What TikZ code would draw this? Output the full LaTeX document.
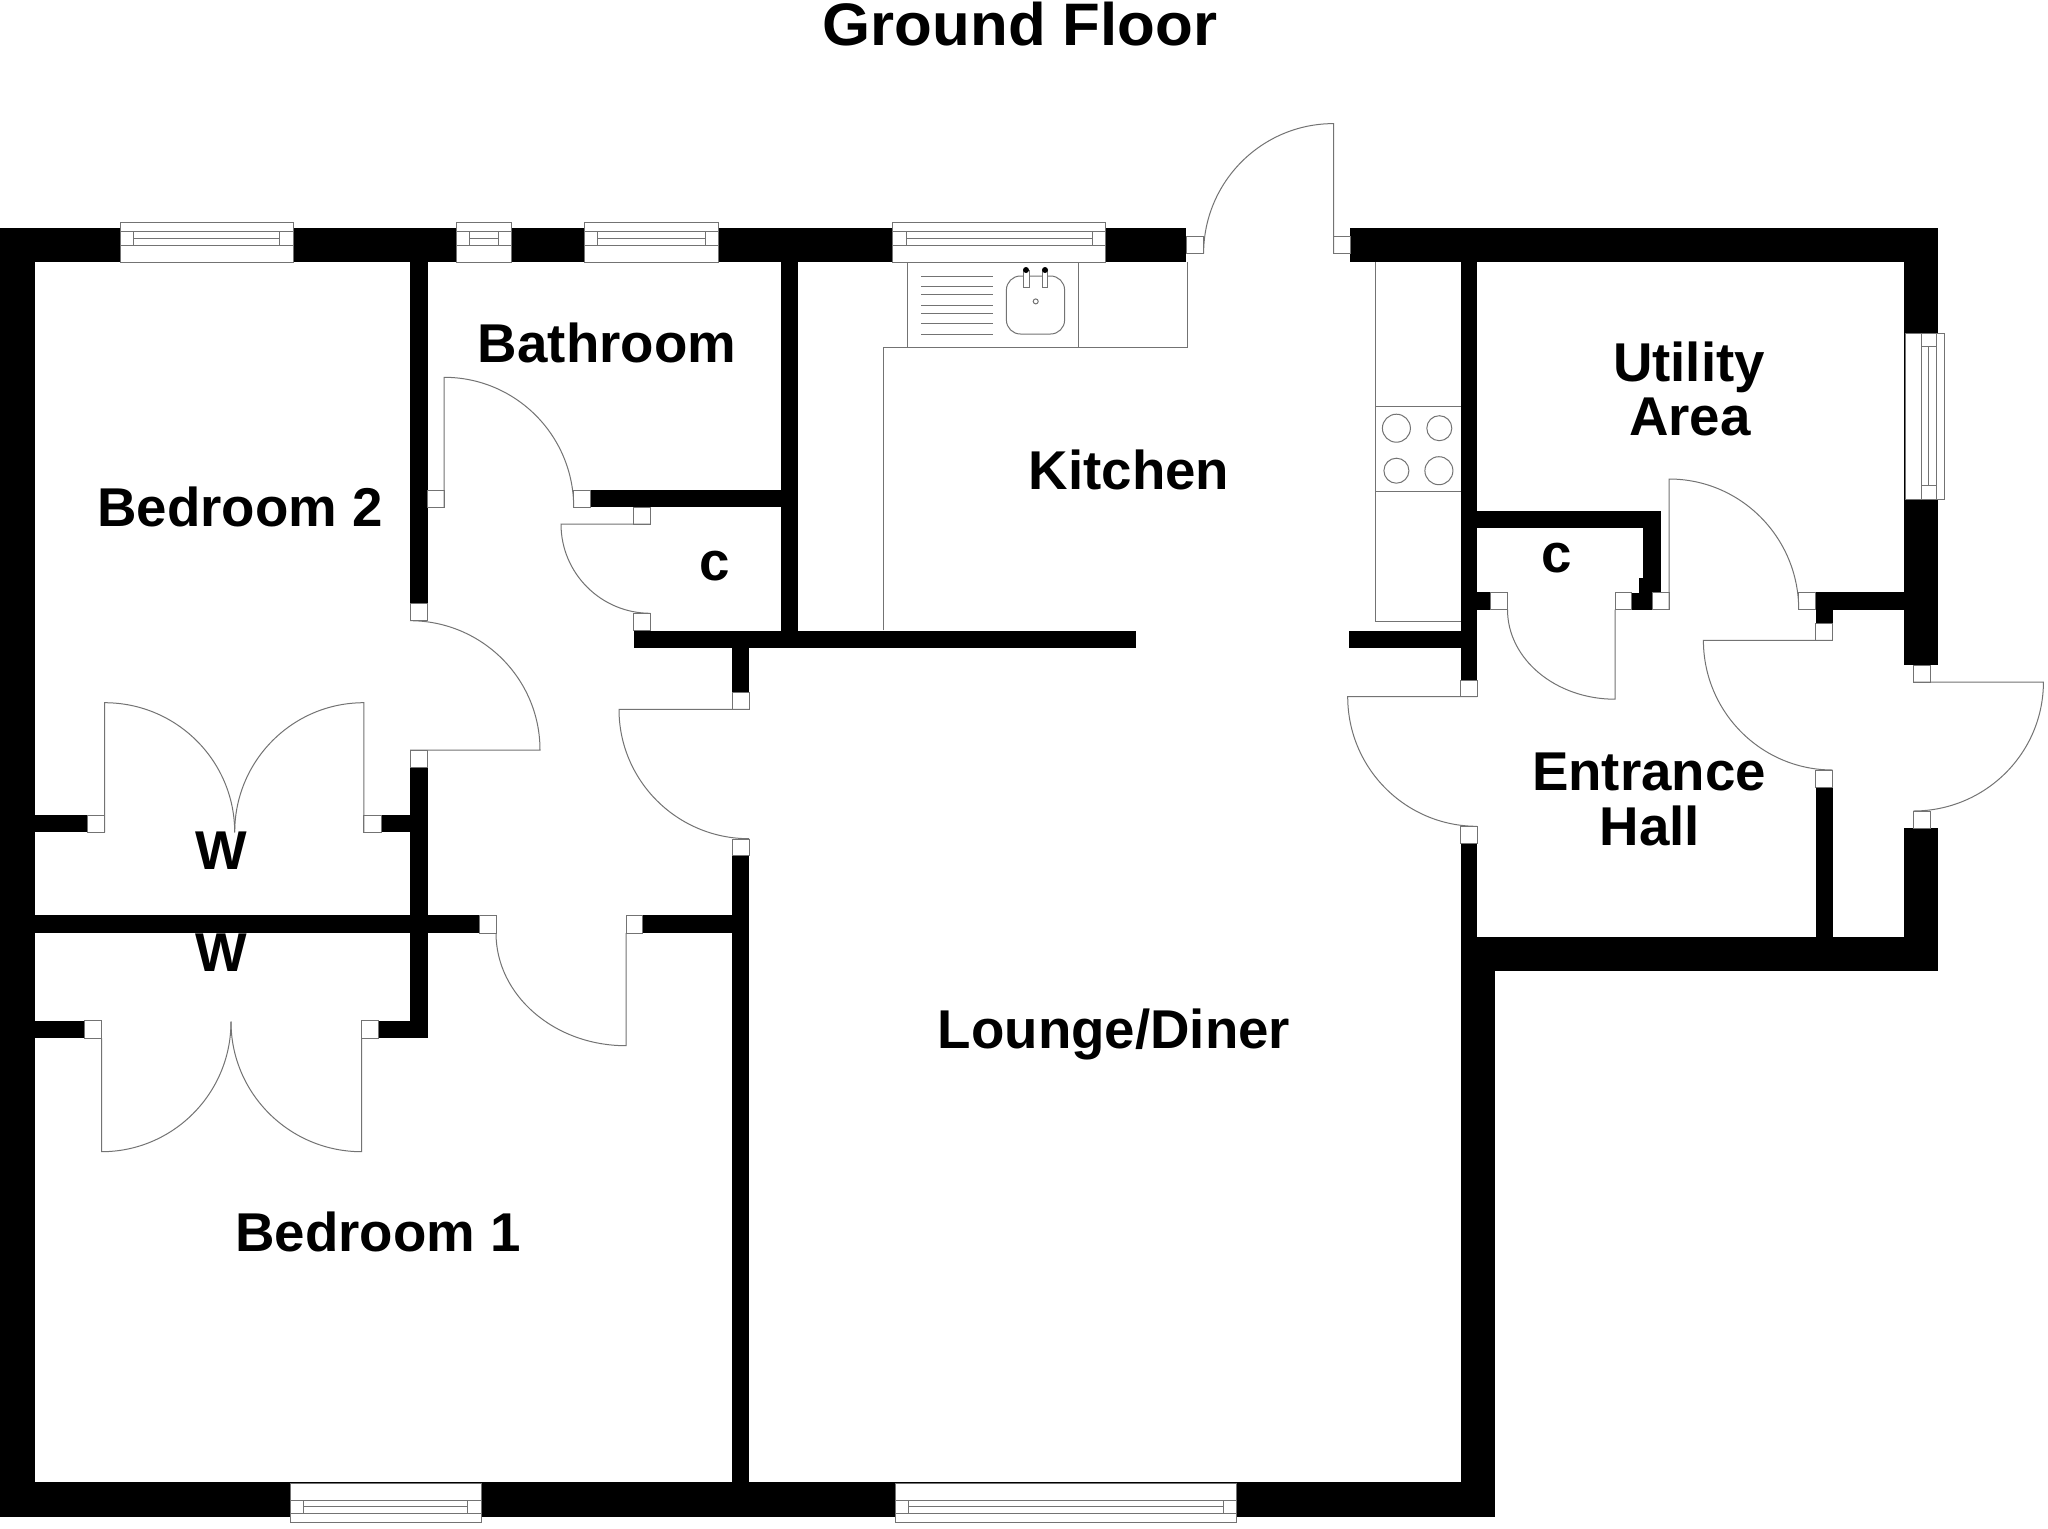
\documentclass[tikz,border=0pt]{standalone}
\usepackage{fontspec}
\setmainfont{Liberation Sans}
\newfontfamily\titlefont{Liberation Sans Bold}[FakeStretch=1.03]
\usetikzlibrary{calc}
\definecolor{linegray}{gray}{0.45}
\tikzset{
  x=0.75pt,y=-0.75pt,
  wall/.style={fill=black,draw=none},
  fine/.style={draw=linegray,line width=0.75pt},
  jamb/.style={draw=linegray,fill=white,line width=0.75pt},
  label/.style={inner sep=0pt,anchor=base,font=\fontsize{41}{41}\selectfont\bfseries,text=black},
  titlelabel/.style={inner sep=0pt,anchor=base,font=\fontsize{45}{45}\selectfont\titlefont,text=black},
}
\newcommand\wl[2]{\fill[wall] (#1) rectangle (#2);}
\newcommand\jb[2]{\draw[jamb] (#1) rectangle (#2);}
% hinge, leaf tip, corner of the quadrant, end of swing
\newcommand\door[4]{%
  \coordinate (T) at (#2); \coordinate (C) at (#3); \coordinate (E) at (#4);
  \draw[fine] (#1) -- (T) .. controls ($(T)!0.5523!(C)$) and ($(E)!0.5523!(C)$) .. (E);}
% x1 x2 inner1 inner2 ytop yline1 ymid yline2 ybottom
\newcommand\hwin[9]{%
  \draw[jamb] (#1,#5) rectangle (#2,#9);
  \draw[fine] (#1,#6) -- (#2,#6) (#1,#8) -- (#2,#8) (#3,#6) -- (#3,#8) (#4,#6) -- (#4,#8) (#3,#7) -- (#4,#7);}
\begin{document}
\begin{tikzpicture}
\useasboundingbox (0,0) rectangle (2048,1528);
\fill[white] (0,0) rectangle (2048,1528);
% labels that walls may overlap
\node[label] (wa) at (221,869.7) {W};
\node[label] (wb) at (221,971.7) {W};
% walls
\wl{0,228}{1186,262}
\wl{1350,228}{1938.2,262}
\wl{1904.3,228}{1938.2,665}
\wl{1904.3,828.4}{1938.2,970.7}
\wl{1460.5,936.6}{1938.2,970.7}
\wl{1460.5,936.6}{1494.9,1517}
\wl{0,1482}{1494.9,1517}
\wl{0,228}{35,1517}
\wl{410,262}{427.7,603}
\wl{410,767.3}{427.7,1038.3}
\wl{590.6,490}{781,507.3}
\wl{781,262}{798,648}
\wl{633.5,630.7}{1136,648}
\wl{732,648}{749,692.3}
\wl{732,855.7}{749,1482}
\wl{35,915.3}{479.6,933}
\wl{642.3,915.3}{732,933}
\wl{35,815}{87.8,832.3}
\wl{381,815}{410,832.3}
\wl{35,1020.7}{84.2,1038.3}
\wl{378,1020.7}{427.7,1038.3}
\wl{1460.5,262}{1477,680}
\wl{1460.5,843}{1477,970}
\wl{1349,630.6}{1460.5,648}
\wl{1477,510.7}{1660.5,527.5}
\wl{1643,510.7}{1660.5,592}
\wl{1639.3,577.6}{1652.4,609.6}
\wl{1631.6,592.7}{1652.4,609.6}
\wl{1477,592}{1490.8,609.6}
\wl{1815.8,591.9}{1904.3,609.6}
\wl{1815.8,609.6}{1832.6,623}
\wl{1815.8,787}{1832.6,936.6}
% door jambs
\jb{410,603}{427.7,620.7}
\jb{427.7,490}{444.2,507.3}
\jb{573.7,490}{590.6,507.3}
\jb{633.5,507.3}{650.4,524}
\jb{633.5,613.3}{650.4,630.7}
\jb{87.8,815}{104.6,832.3}
\jb{363.8,815}{381,832.3}
\jb{410,750}{427.7,767.3}
\jb{479.6,915.3}{496,933}
\jb{626,915.3}{642.3,933}
\jb{732,692.3}{749,709.3}
\jb{732,839.3}{749,855.7}
\jb{84.2,1020.7}{101.5,1038.3}
\jb{361.7,1020.7}{378,1038.3}
\jb{1186.8,236.8}{1203.6,253.6}
\jb{1333.6,236.8}{1350,253.6}
\jb{1460.5,680}{1477,696.7}
\jb{1460.5,826.3}{1477,843}
\jb{1490.8,592}{1507.5,609.6}
\jb{1615,592}{1631.6,609.6}
\jb{1652.4,592}{1669,609.6}
\jb{1798.7,592}{1815.8,609.6}
\jb{1815.8,623}{1832.6,640.3}
\jb{1815.8,770.3}{1832.6,787}
\jb{1913.4,665}{1930,682}
\jb{1913.4,811}{1930,828.4}
% doors
\door{444.2,507.3}{444.2,377.3}{573.7,377.3}{573.7,507.3}
\door{650.4,524}{561,524}{561,613.3}{650.4,613.3}
\door{410,750}{540,750}{540,620.7}{410,620.7}
\door{626,933}{626,1045.7}{496,1045.7}{496,933}
\door{749,709.3}{619,709.3}{619,838.7}{749,838.7}
\door{104.6,832.3}{104.6,702.7}{234.7,702.7}{234.7,832.3}
\door{363.8,832.3}{363.8,702.7}{234.7,702.7}{234.7,832.3}
\door{101.5,1038.3}{101.5,1151.7}{231,1151.7}{231,1021.7}
\door{361.7,1038.3}{361.7,1151.7}{231,1151.7}{231,1021.7}
\door{1333.6,253.6}{1333.6,123.6}{1203.6,123.6}{1203.6,253.6}
\door{1477,696.7}{1347.7,696.7}{1347.7,826.3}{1477,826.3}
\door{1615,609.6}{1615,699.2}{1507.5,699.2}{1507.5,609.6}
\door{1669,609.6}{1669,479}{1798.7,479}{1798.7,609.6}
\door{1832.6,640.3}{1703.4,640.3}{1703.4,770}{1832.6,770}
\door{1913.4,682}{2043.4,682}{2043.4,811}{1913.4,811}
% windows
\hwin{120.5}{293}{133.5}{279.5}{222.3}{231.3}{238.3}{245}{262.3}
\hwin{456}{511.6}{469.6}{498}{222.3}{231.3}{238.3}{245}{262.3}
\hwin{584}{718}{597.5}{705}{222.3}{231.3}{238.3}{245}{262.3}
\hwin{892.5}{1105.7}{906.4}{1092}{222.3}{231.3}{238.3}{245}{262.3}
\hwin{290}{481}{303.5}{467.6}{1483.3}{1500}{1506.7}{1513.3}{1522.7}
\hwin{895.5}{1236.3}{908.8}{1223}{1483.3}{1500}{1506.7}{1513.3}{1522.7}
\draw[jamb] (1905,333.9) rectangle (1944,499.3);
\draw[fine] (1921.5,333.9) -- (1921.5,499.3) (1936,333.9) -- (1936,499.3)
  (1921.5,346.5) -- (1936,346.5) (1921.5,485.4) -- (1936,485.4) (1928.7,346.5) -- (1928.7,485.4);
% kitchen units
\draw[fine] (907.5,262) -- (907.5,347.5) (1078.2,262) -- (1078.2,347.5) (1187.5,262) -- (1187.5,347.5)
  (883.6,630.4) -- (883.6,347.5) -- (1187.5,347.5);
\foreach \yy in {276,286,294.6,305,313.6,323.6,334} \draw[fine] (921.4,\yy) -- (992.9,\yy);
\draw[fine,rounded corners=10.5pt] (1006.4,276) rectangle (1064.6,334);
\draw[jamb] (1023.2,270.7) rectangle (1029,287.5);
\draw[jamb] (1042,270.7) rectangle (1047.9,287.5);
\fill[black] (1026,270) circle[radius=3] (1045,270) circle[radius=3];
\draw[fine] (1035.7,301.4) circle[radius=2.5];
\draw[fine] (1375.7,262) -- (1375.7,621.8) -- (1460.5,621.8) (1375.7,406.3) -- (1460.5,406.3) (1375.7,491.7) -- (1460.5,491.7);
\draw[fine] (1396.4,428.2) circle[radius=14] (1439.3,428.2) circle[radius=12.5]
  (1396.4,470.7) circle[radius=12.5] (1438.9,470.7) circle[radius=14];
% labels
\node[titlelabel] (title) at (1020,45) {Ground Floor};
\node[label] (bed2) at (240,526.5) {Bedroom 2};
\node[label] (bath) at (607,362.8) {Bathroom};
\node[label] (kit) at (1129,489) {Kitchen};
\node[label] (c1) at (715,580.5) {c};
\node[label] (util) at (1689,381.5) {Utility};
\node[label] (area) at (1690,435) {Area};
\node[label] (c2) at (1556.8,572) {c};
\node[label] (ent) at (1649,790.8) {Entrance};
\node[label] (hall) at (1650,845.5) {Hall};
\node[label] (loun) at (1114,1048.3) {Lounge/Diner};
\node[label] (bed1) at (378,1251.7) {Bedroom 1};
\end{tikzpicture}
\end{document}
